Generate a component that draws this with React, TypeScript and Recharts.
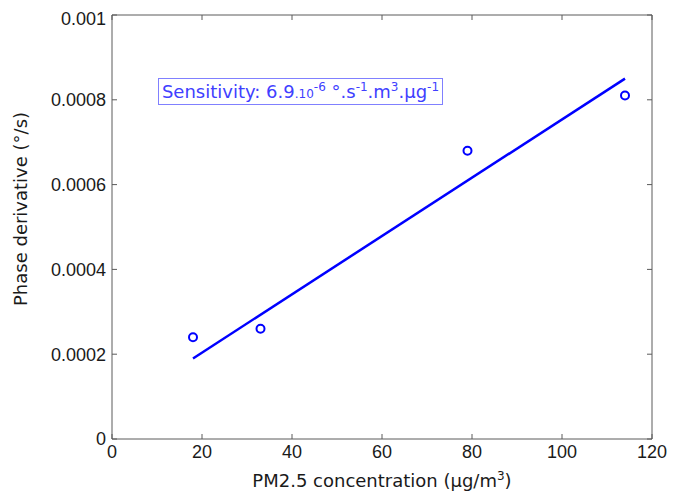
import { ScatterChart, Scatter, XAxis, YAxis } from 'recharts';

// measured points
const pmValues = [18, 33, 79, 114];
const phaseDerivative = [0.00024, 0.00026, 0.00068, 0.00081];

// linear fit endpoints
const fitX = [18, 114];
const fitY = [0.00019, 0.00085];

const xTicks = [0, 20, 40, 60, 80, 100, 120];
const yTicks = [0, 0.0002, 0.0004, 0.0006, 0.0008, 0.001];

const measured = pmValues.map((x, i) => ({ x, y: phaseDerivative[i] }));
const fitLine = fitX.map((x, i) => ({ x, y: fitY[i] }));

const AXIS = '#5a5a5a';
const BLUE = '#0000ff';
const LABEL_FONT = '"DejaVu Sans", sans-serif';
const TICK_FONT = '"Liberation Sans", Arial, sans-serif';

const tickStyle = { fill: '#1a1a1a', fontSize: 18, fontFamily: TICK_FONT };

const XLabel = (props: any) => {
  const { viewBox } = props;
  const cx = viewBox.x + viewBox.width / 2;
  return (
    <text x={cx} y={viewBox.y + 48} textAnchor="middle" fontFamily={LABEL_FONT} fontSize={18} fill="#1a1a1a">
      PM2.5 concentration (µg/m
      <tspan dy={-7} fontSize={12}>3</tspan>
      <tspan dy={7}>)</tspan>
    </text>
  );
};

const YLabel = () => (
  <text
    x={19}
    y={201}
    transform="rotate(-90 19 201)"
    textAnchor="middle"
    fontFamily={LABEL_FONT}
    fontSize={18}
    fill="#1a1a1a"
  >
    Phase derivative (°/s)
  </text>
);

const Circle = (props: any) => (
  <circle cx={props.cx} cy={props.cy} r={4} fill="none" stroke={BLUE} strokeWidth={2} />
);

const sup = { fontSize: 12, verticalAlign: 'super', lineHeight: 0 } as const;

export default function App() {
  return (
    <div style={{ position: 'relative', width: 665, height: 488 }}>
      <ScatterChart width={665} height={488} margin={{ top: 6, right: 20, bottom: 0, left: 0 }}>
        <XAxis
          dataKey="x"
          type="number"
          domain={[0, 120]}
          ticks={xTicks}
          height={57}
          stroke={AXIS}
          tickSize={-5}
          tickMargin={11}
          tick={tickStyle}
          label={<XLabel />}
        />
        <XAxis
          xAxisId="top"
          dataKey="x"
          orientation="top"
          type="number"
          domain={[0, 120]}
          ticks={xTicks}
          height={1}
          stroke={AXIS}
          tickSize={-5}
          tick={() => <g />}
        />
        <YAxis
          dataKey="y"
          type="number"
          domain={[0, 0.001]}
          ticks={yTicks}
          width={104}
          stroke={AXIS}
          tickSize={-5}
          tickMargin={11}
          tick={tickStyle}
          label={<YLabel />}
        />
        <YAxis
          yAxisId="right"
          dataKey="y"
          orientation="right"
          type="number"
          domain={[0, 0.001]}
          ticks={yTicks}
          width={1}
          stroke={AXIS}
          tickSize={-5}
          tick={() => <g />}
        />
        {/* hidden series so the mirrored frame axes render */}
        <Scatter
          xAxisId="top"
          yAxisId="right"
          data={measured}
          shape={() => <g />}
          isAnimationActive={false}
        />
        <Scatter
          data={fitLine}
          line={{ stroke: BLUE, strokeWidth: 2.5 }}
          shape={() => <g />}
          isAnimationActive={false}
        />
        <Scatter data={measured} shape={<Circle />} isAnimationActive={false} />
      </ScatterChart>
      <div
        style={{
          position: 'absolute',
          left: 150,
          top: 70,
          width: 283,
          height: 25,
          border: '1px solid #8080ff',
          background: '#fff',
          color: '#4040ff',
          fontFamily: LABEL_FONT,
          fontSize: 18,
          lineHeight: '25px',
          textAlign: 'center',
          whiteSpace: 'nowrap',
        }}
      >
        Sensitivity: 6.9<span style={{ fontSize: 12 }}>.10</span>
        <span style={sup}>-6</span> °.s<span style={sup}>-1</span>.m<span style={sup}>3</span>.µg
        <span style={sup}>-1</span>
      </div>
    </div>
  );
}
